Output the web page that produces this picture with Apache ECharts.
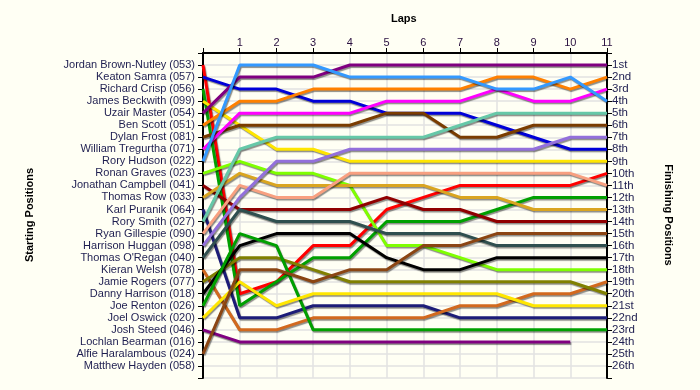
<!DOCTYPE html>
<html>
<head>
<meta charset="utf-8">
<script src="https://cdn.jsdelivr.net/npm/echarts@6/dist/echarts.min.js"></script>
<style>
html,body{margin:0;padding:0;background:#fffff4;}
#c{width:700px;height:390px;}
</style>
</head>
<body>
<div id="c"></div>
<script>
const laps = [0,1,2,3,4,5,6,7,8,9,10,11];
const startNames = [
 "Jordan Brown-Nutley (053)","Keaton Samra (057)","Richard Crisp (056)","James Beckwith (099)",
 "Uzair Master (054)","Ben Scott (051)","Dylan Frost (081)","William Tregurtha (071)",
 "Rory Hudson (022)","Ronan Graves (023)","Jonathan Campbell (041)","Thomas Row (033)",
 "Karl Puranik (064)","Rory Smith (027)","Ryan Gillespie (090)","Harrison Huggan (098)",
 "Thomas O'Regan (040)","Kieran Welsh (078)","Jamie Rogers (077)","Danny Harrison (018)",
 "Joe Renton (026)","Joel Oswick (020)","Josh Steed (046)","Lochlan Bearman (016)",
 "Alfie Haralambous (024)","Matthew Hayden (058)"
];
const finishLabels = ["1st","2nd","3rd","4th","5th","6th","7th","8th","9th","10th","11th","12th","13th",
 "14th","15th","16th","17th","18th","19th","20th","21st","22nd","23rd","24th","25th","26th"];

// positions at laps 0..11
const jordan   = [1,20,19,16,16,13,12,11,11,11,11,10];
const keaton   = [2,3,3,4,4,5,5,5,6,7,8,8];
const richard  = [3,21,19,17,17,14,14,14,13,12,12,12];
const james    = [4,6,8,8,9,9,9,9,9,9,9,9];
const uzair    = [5,2,2,2,1,1,1,1,1,1,1,1];
const ben      = [6,4,4,3,3,3,3,3,2,2,3,2];
const dylan    = [7,6,6,6,6,5,5,7,7,6,6,6];
const william  = [8,5,5,5,5,4,4,4,3,4,4,3];
const roryH    = [9,1,1,1,2,2,2,2,3,3,2,4];
const ronan    = [10,9,10,10,11,16,16,17,18,18,18,18];
const jonathan = [11,13,13,13,13,12,13,13,14,14,14,14];
const thomasR  = [12,10,11,11,11,11,11,12,12,13,13,13];
const karl     = [13,22,22,21,21,21,21,22,22,22,22,22];
const roryS    = [14,8,7,7,7,7,7,6,5,5,5,5];
const ryan     = [15,11,12,12,10,10,10,10,10,10,10,11];
const harrison = [16,12,9,9,8,8,8,8,8,8,7,7];
const thomasO  = [17,13,14,14,14,15,15,15,16,16,16,16];
const kieran   = [18,23,23,22,22,22,22,21,21,20,20,19];
const jamie    = [19,17,17,18,19,19,19,19,19,19,19,20];
const danny    = [20,16,15,15,15,17,18,18,17,17,17,17];
const joe      = [21,15,16,23,23,23,23,23,23,23,23,23];
const joel     = [22,19,21,20,20,20,20,20,20,21,21,21];
const josh     = [23,24,24,24,24,24,24,24,24,24,24,null];
const alfie    = [25,18,18,19,18,18,16,16,15,15,15,15];

const driverSeries = [jordan,keaton,richard,james,uzair,ben,dylan,william,roryH,ronan,jonathan,thomasR,
  karl,roryS,ryan,harrison,thomasO,kieran,jamie,danny,joe,joel,josh,alfie];
const driverNames = ["Jordan","Keaton","Richard","James","Uzair","Ben","Dylan","William","RoryH","Ronan",
  "Jonathan","ThomasR","Karl","RoryS","Ryan","Harrison","ThomasO","Kieran","Jamie","Danny","Joe","Joel","Josh","Alfie"];
const colors = ["#ff0000","#0000d8","#00a000","#ffe600","#800080","#ff8000","#7a3c00","#ff00ff",
  "#3399ff","#7fff00","#900000","#daa520","#1c1c78","#66c8a8","#f8a080","#9370db","#2f4f4f",
  "#d2691e","#808000","#000000","#00a000","#ffe600","#800080","#8b4513"];

const textColor = "#1e1e50";
const font = "Liberation Sans";

const chart = echarts.init(document.getElementById('c'));
const series = driverSeries.map((arr, i) => ({
  name: driverNames[i],
  type: 'line',
  data: arr.map((p, lap) => p == null ? null : [laps[lap], p]).filter(d => d),
  symbol: 'none',
  silent: true,
  xAxisIndex: 0,
  yAxisIndex: 0,
  lineStyle: {
    color: colors[i], width: 3,
    shadowColor: 'rgba(0,0,0,0.45)', shadowBlur: 1, shadowOffsetX: 1, shadowOffsetY: 1.5
  },
  itemStyle: { color: colors[i] },
  z: 3 + i * 0.01
}));

const yCommon = {
  type: 'value', inverse: true, min: 0, max: 27, interval: 1,
  axisLine: { show: true, onZero: false, lineStyle: { color: '#000', width: 2 } },
  axisTick: { show: true, length: 5, lineStyle: { color: '#000', width: 1 } },
};

chart.setOption({
  backgroundColor: '#fffff4',
  animation: false,
  grid: { left: 203, right: 93, top: 53, bottom: 12 },
  xAxis: {
    type: 'value', position: 'top', min: 0, max: 11, interval: 1,
    axisLine: { show: true, onZero: false, lineStyle: { color: '#000', width: 2 } },
    axisTick: { show: true, length: 5, lineStyle: { color: '#000' } },
    axisLabel: { formatter: v => v === 0 ? '' : String(v), color: '#2a1040', fontFamily: font, fontSize: 11, margin: 5 },
    splitLine: { show: true, lineStyle: { color: '#e2e2e2', width: 1.5 } }
  },
  yAxis: [
    Object.assign({}, yCommon, {
      position: 'left',
      axisLabel: { formatter: v => startNames[v - 1] || '', color: textColor, fontFamily: font, fontSize: 11, margin: 8 },
      splitLine: { show: true, lineStyle: { color: '#e2e2e2', width: 1.5 } }
    }),
    Object.assign({}, yCommon, {
      position: 'right',
      axisLabel: { formatter: v => finishLabels[v - 1] || '', color: textColor, fontFamily: font, fontSize: 11.5, margin: 5 },
      splitLine: { show: false }
    })
  ],
  graphic: [
    { type: 'text', left: 391, top: 13, style: { text: 'Laps', fontFamily: font, fontSize: 11, fontWeight: 'bold', fill: '#000' } },
    { type: 'text', x: 30, y: 215, rotation: Math.PI / 2,
      style: { text: 'Starting Positions', fontFamily: font, fontSize: 11, fontWeight: 'bold', fill: '#000', align: 'center', verticalAlign: 'middle' } },
    { type: 'text', x: 668, y: 215, rotation: -Math.PI / 2,
      style: { text: 'Finishing Positions', fontFamily: font, fontSize: 11, fontWeight: 'bold', fill: '#000', align: 'center', verticalAlign: 'middle' } }
  ],
  series: series
});
</script>
</body>
</html>
